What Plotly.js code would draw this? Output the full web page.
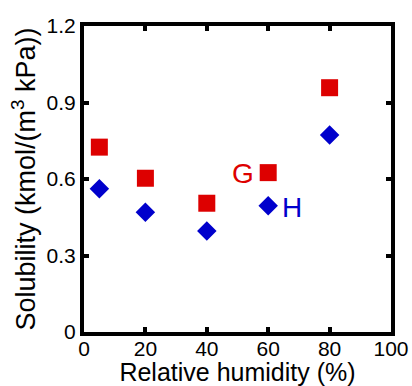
<!DOCTYPE html>
<html>
<head>
<meta charset="utf-8">
<script src="https://cdn.plot.ly/plotly-3.0.1.min.js"></script>
<style>html,body{margin:0;padding:0;background:#fff;}#chart{width:412px;height:386px;}</style>
</head>
<body>
<div id="chart"></div>
<script>
const humidity = [5, 20, 40, 60, 80];
const solubilityG = [0.725, 0.603, 0.505, 0.625, 0.958];
const solubilityH = [0.562, 0.470, 0.396, 0.495, 0.773];
const seriesNames = ['G', 'H'];
const xTicks = [0, 20, 40, 60, 80, 100];
const yTicks = [0, 0.3, 0.6, 0.9, 1.2];
const labelPosG = {x: 51.7, y: 0.623};
const labelPosH = {x: 67.6, y: 0.487};

const red = '#dd0000';
const blue = '#0000cc';
const fam = '"Liberation Sans", Arial, Helvetica, sans-serif';

const traces = [
  {x: humidity, y: solubilityG, name: seriesNames[0], mode: 'markers', type: 'scatter',
   marker: {symbol: 'square', size: 17, color: red}},
  {x: humidity, y: solubilityH, name: seriesNames[1], mode: 'markers', type: 'scatter',
   marker: {symbol: 'diamond', size: 15, color: blue}}
];

const axisCommon = {
  showgrid: false, zeroline: false, showline: true, linecolor: '#000', linewidth: 4,
  mirror: 'ticks', ticks: 'inside', ticklen: 5, tickwidth: 4, tickcolor: '#000',
  tickfont: {family: fam, size: 21, color: '#000'}
};

const layout = {
  width: 412, height: 386,
  margin: {l: 84, r: 21, t: 26, b: 54},
  paper_bgcolor: '#fff', plot_bgcolor: '#fff',
  showlegend: false,
  font: {family: fam, color: '#000'},
  xaxis: Object.assign({}, axisCommon, {
    range: [0, 100], tickvals: xTicks, ticktext: xTicks.map(String),
    ticklabelstandoff: -5,
    title: {text: 'Relative humidity (%)', font: {family: fam, size: 25, color: '#000'}, standoff: 2}
  }),
  yaxis: Object.assign({}, axisCommon, {
    range: [0, 1.2], tickvals: yTicks, ticktext: yTicks.map(String),
    title: {text: 'Solubility (kmol/(m<sup>3</sup> kPa))', font: {family: fam, size: 27, color: '#000'}, standoff: 4}
  }),
  annotations: [
    {x: labelPosG.x, y: labelPosG.y, xref: 'x', yref: 'y', text: seriesNames[0], showarrow: false,
     font: {family: fam, size: 28, color: red}},
    {x: labelPosH.x, y: labelPosH.y, xref: 'x', yref: 'y', text: seriesNames[1], showarrow: false,
     font: {family: fam, size: 28, color: blue}}
  ]
};

Plotly.newPlot('chart', traces, layout, {displayModeBar: false, staticPlot: true});
</script>
</body>
</html>
